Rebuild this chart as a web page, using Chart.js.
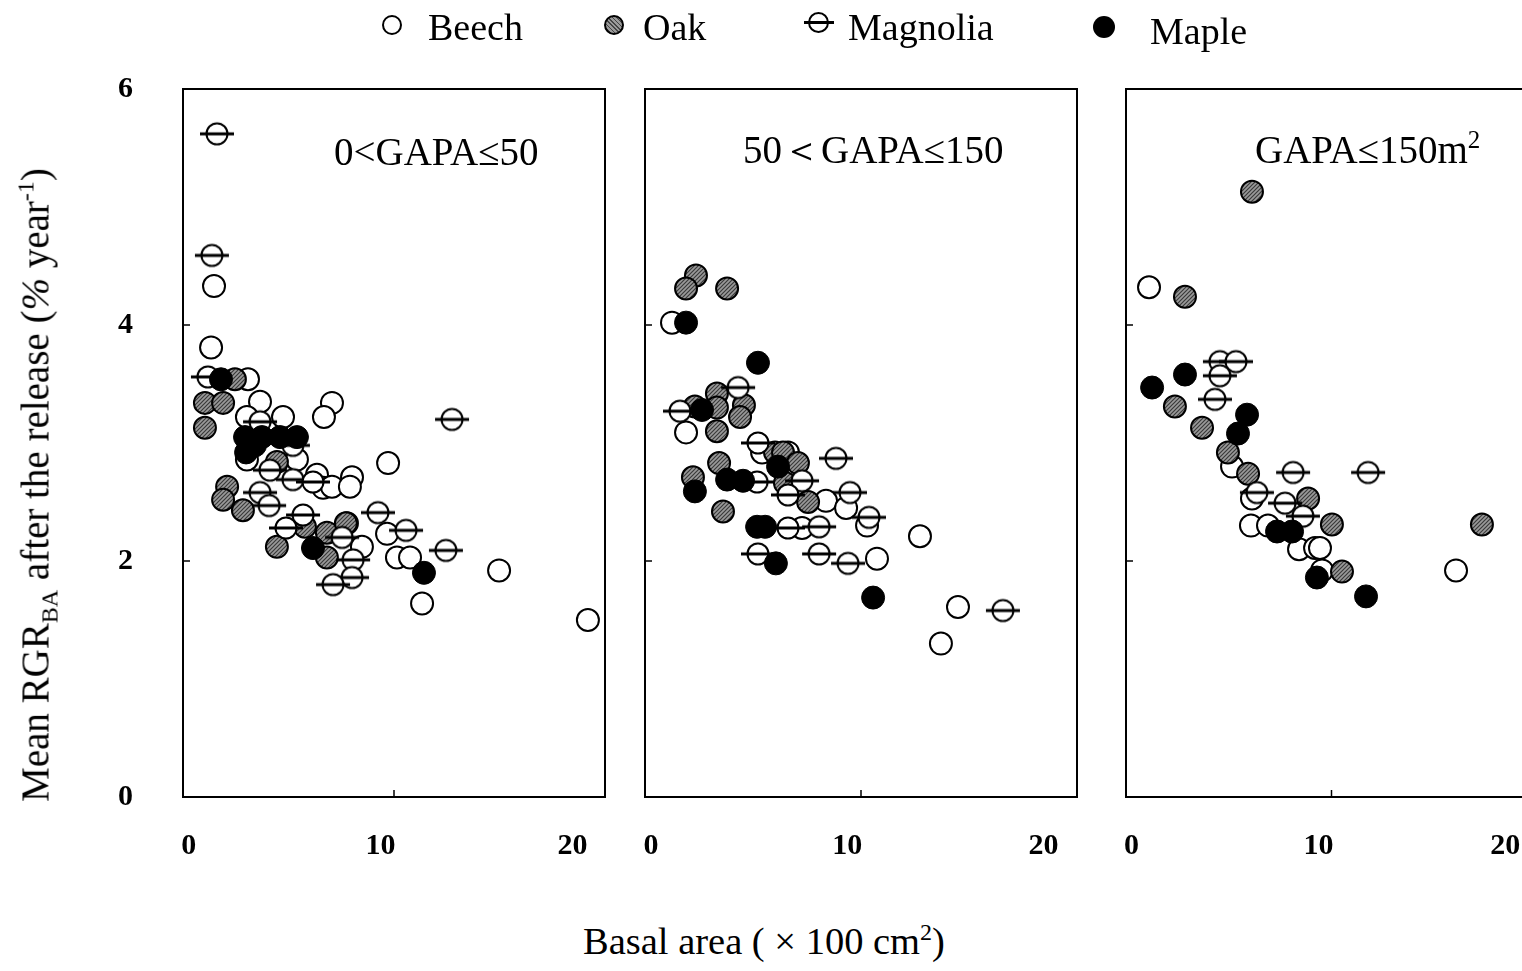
<!DOCTYPE html>
<html><head><meta charset="utf-8">
<script src="https://cdn.jsdelivr.net/npm/chart.js@4.4.1/dist/chart.umd.min.js"></script>
<style>
html,body{margin:0;padding:0;background:#fff;overflow:hidden;width:1522px;height:971px;}
#wrap{position:relative;width:1522px;height:971px;overflow:hidden;font-family:"Liberation Serif","Times New Roman",serif;color:#000;background:#fff;}
canvas{position:absolute;top:0;}
.t{position:absolute;white-space:nowrap;line-height:1;}
.mk{position:absolute;box-sizing:border-box;border-radius:50%;}
sub,sup{line-height:0;}
</style></head><body><div id="wrap">
<canvas id="c1" width="620" height="900" style="left:0px"></canvas>
<canvas id="c2" width="460" height="900" style="left:632px"></canvas>
<canvas id="c3" width="439" height="900" style="left:1113px"></canvas>

<!-- legend -->
<div class="mk" style="left:382px;top:15px;width:20px;height:20px;border:2px solid #000;background:#fff"></div>
<div class="t" style="left:428px;top:8px;font-size:38px">Beech</div>
<div class="mk" style="left:604px;top:15px;width:20px;height:20px;border:2px solid #000;background:repeating-linear-gradient(45deg,#444 0 1px,#9a9a9a 1px 3px)"></div>
<div class="t" style="left:643px;top:8px;font-size:38px">Oak</div>
<div class="mk" style="left:808px;top:12px;width:21px;height:21px;border:2px solid #000;background:#fff"></div>
<div style="position:absolute;left:804px;top:21px;width:30px;height:3px;background:#000"></div>
<div class="t" style="left:848px;top:8px;font-size:38px">Magnolia</div>
<div class="mk" style="left:1093px;top:16px;width:22px;height:22px;background:#000"></div>
<div class="t" style="left:1150px;top:12px;font-size:38px">Maple</div>

<!-- panel titles -->
<div class="t" style="left:334px;top:132px;font-size:39px">0&lt;GAPA≤50</div>
<div class="t" style="left:743px;top:130px;font-size:39px">50＜GAPA≤150</div>
<div class="t" style="left:1255px;top:130px;font-size:39px">GAPA≤150m<sup style="font-size:25px;vertical-align:15px">2</sup></div>

<!-- axis titles -->
<div class="t" style="left:583px;top:922px;font-size:38.5px">Basal area ( × 100 cm<sup style="font-size:24px;vertical-align:14px">2</sup>)</div>
<div class="t" style="left:35px;top:485px;font-size:39px;transform:translate(-50%,-50%) rotate(-90deg)">Mean RGR<sub style="font-size:24px;vertical-align:-9px">BA</sub> after the release (<i>%</i> year<sup style="font-size:24px;vertical-align:15px">-1</sup>)</div>
</div>
<script>
// ---- data: [basal area (x100 cm2), mean RGR_BA (% / year)] ----
const xTickValues = [0, 10, 20];
const xTickLabels = ['0', '10', '20'];
const yTickValues = [0, 2, 4, 6];
const panelTitles = ['0<GAPA≤50', '50＜GAPA≤150', 'GAPA≤150m²'];
const speciesNames = ['Beech', 'Oak', 'Magnolia', 'Maple'];

const p1Beech = [[1.33,3.81],[1.47,4.33],[3.08,3.54],[3.65,3.35],[3.03,3.22],[4.74,3.22],[7.06,3.34],[6.68,3.22],[5.40,2.86],[3.03,2.86],[9.72,2.83],[6.35,2.73],[6.64,2.62],[7.06,2.63],[8.01,2.71],[7.91,2.63],[7.77,2.32],[8.48,2.12],[9.67,2.23],[10.14,2.03],[10.76,2.03],[11.33,1.64],[14.98,1.92],[19.19,1.50]];
const p1Oak = [[1.04,3.34],[1.90,3.34],[1.04,3.13],[2.46,3.54],[4.45,2.84],[2.09,2.63],[1.90,2.52],[2.84,2.43],[5.78,2.29],[4.45,2.12],[6.82,2.24],[6.82,2.03],[7.72,2.32]];
const p1Magnolia = [[1.61,5.62],[1.37,4.59],[1.18,3.56],[12.75,3.20],[3.65,3.18],[5.21,2.98],[4.12,2.77],[5.21,2.69],[6.16,2.67],[3.65,2.58],[4.08,2.47],[5.69,2.39],[4.88,2.28],[9.24,2.41],[10.57,2.26],[7.54,2.20],[12.46,2.09],[8.06,2.01],[8.01,1.86],[7.11,1.80]];
const p1Maple = [[1.80,3.54],[2.94,3.05],[3.74,3.05],[4.60,3.05],[5.40,3.05],[2.99,2.92],[3.41,2.98],[6.16,2.11],[11.42,1.90]];

const p2Beech = [[1.25,4.02],[1.90,3.09],[5.42,2.92],[6.62,2.92],[8.38,2.51],[9.31,2.45],[10.28,2.30],[7.27,2.28],[12.73,2.21],[10.74,2.02],[14.49,1.61],[13.70,1.30]];
const p2Oak = [[2.36,4.42],[1.90,4.31],[3.80,4.31],[3.33,3.42],[3.33,3.30],[4.58,3.32],[4.40,3.22],[2.31,3.31],[3.33,3.10],[6.02,2.92],[6.39,2.92],[7.08,2.83],[3.43,2.83],[2.22,2.71],[3.61,2.42],[7.55,2.50],[6.48,2.66]];
const p2Magnolia = [[4.31,3.47],[1.62,3.27],[5.23,3.00],[8.84,2.87],[5.19,2.67],[7.27,2.68],[6.62,2.56],[9.49,2.58],[10.37,2.37],[6.62,2.28],[8.06,2.29],[5.23,2.06],[8.06,2.06],[9.40,1.98],[16.57,1.58]];
const p2Maple = [[1.90,4.02],[5.23,3.68],[2.64,3.28],[6.16,2.80],[2.31,2.59],[3.80,2.69],[4.54,2.68],[5.19,2.29],[5.56,2.29],[6.06,1.98],[10.56,1.69]];

const p3Beech = [[1.12,4.32],[5.16,2.80],[6.13,2.53],[6.08,2.30],[6.91,2.30],[8.42,2.10],[9.20,2.11],[9.44,2.11],[9.54,1.92],[16.06,1.92]];
const p3Oak = [[6.13,5.13],[2.87,4.24],[2.38,3.31],[3.70,3.13],[4.96,2.92],[5.94,2.74],[8.86,2.53],[10.02,2.31],[10.51,1.91],[17.32,2.31]];
const p3Magnolia = [[4.57,3.69],[5.35,3.69],[4.57,3.57],[4.33,3.37],[8.13,2.75],[11.78,2.75],[6.37,2.58],[7.74,2.49],[8.61,2.38]];
const p3Maple = [[1.27,3.47],[2.87,3.58],[5.89,3.24],[5.45,3.08],[7.35,2.25],[8.08,2.25],[9.29,1.86],[11.68,1.70]];

// ---- marker styles ----
const pc = document.createElement('canvas'); pc.width = 4; pc.height = 4;
const pg = pc.getContext('2d');
pg.fillStyle = '#9a9a9a'; pg.fillRect(0,0,4,4);
pg.strokeStyle = '#3a3a3a'; pg.lineWidth = 1.2;
pg.beginPath(); pg.moveTo(0,4); pg.lineTo(4,0); pg.moveTo(-1,1); pg.lineTo(1,-1); pg.moveTo(3,5); pg.lineTo(5,3); pg.stroke();
const hatch = pg.createPattern(pc, 'repeat');

const mc = document.createElement('canvas'); mc.width = 36; mc.height = 26;
const mg = mc.getContext('2d');
mg.fillStyle = '#fff'; mg.beginPath(); mg.arc(18,13,10.5,0,2*Math.PI); mg.fill();
mg.lineWidth = 2; mg.strokeStyle = '#000'; mg.stroke();
mg.lineWidth = 3; mg.beginPath(); mg.moveTo(1,13); mg.lineTo(35,13); mg.stroke();

const toPts = arr => arr.map(p => ({x: p[0], y: p[1]}));

const boxPlugin = {
  id: 'box',
  afterDraw(chart) {
    const {ctx, chartArea: a, scales} = chart;
    ctx.save();
    ctx.strokeStyle = '#000'; ctx.lineWidth = 2;
    ctx.strokeRect(a.left, a.top, a.right - a.left, a.bottom - a.top);
    ctx.lineWidth = 1.5;
    [2, 4].forEach(v => {
      const y = scales.y.getPixelForValue(v);
      ctx.beginPath(); ctx.moveTo(a.left, y); ctx.lineTo(a.left + 7, y); ctx.stroke();
    });
    const x = scales.x.getPixelForValue(10);
    ctx.beginPath(); ctx.moveTo(x, a.bottom); ctx.lineTo(x, a.bottom - 7); ctx.stroke();
    ctx.restore();
  }
};

const tickFont = {family: 'Liberation Serif', size: 30, weight: 'bold'};

function makePanel(id, beech, oak, magnolia, maple, showY, leftW) {
  new Chart(document.getElementById(id), {
    type: 'scatter',
    data: {
      datasets: [
        {label: speciesNames[3], data: toPts(maple), pointStyle: 'circle', pointRadius: 11.5, backgroundColor: '#000', borderColor: '#000', borderWidth: 1, clip: false},
        {label: speciesNames[2], data: toPts(magnolia), pointStyle: mc, pointRadius: 12, clip: false},
        {label: speciesNames[1], data: toPts(oak), pointStyle: 'circle', pointRadius: 11, backgroundColor: hatch, borderColor: '#000', borderWidth: 2, clip: false},
        {label: speciesNames[0], data: toPts(beech), pointStyle: 'circle', pointRadius: 11, backgroundColor: '#fff', borderColor: '#000', borderWidth: 2, clip: false}
      ]
    },
    options: {
      responsive: false, animation: false,
      layout: {padding: {top: 89, right: 15, left: 0, bottom: 0}},
      plugins: {legend: {display: false}, tooltip: {enabled: false}},
      events: [],
      scales: {
        x: {type: 'linear', position: 'bottom', min: 0, max: 20,
            ticks: {display: false}, grid: {display: false, drawTicks: false}, border: {display: false},
            afterFit(s) { s.height = 0; }},
        xl: {type: 'linear', position: 'bottom', min: -0.3, max: 21.7,
            afterBuildTicks(s) { s.ticks = xTickValues.map(v => ({value: v})); },
            ticks: {padding: 0, color: '#000', maxRotation: 0, autoSkip: false,
                    callback: (v) => xTickLabels[xTickValues.indexOf(v)],
                    font: tickFont},
            grid: {display: true, drawOnChartArea: false, drawTicks: true, tickLength: 31, color: 'rgba(0,0,0,0)'},
            border: {display: false},
            afterFit(s) { s.height = 103; }},
        y: {type: 'linear', min: 0, max: 6,
            afterBuildTicks(s) { s.ticks = yTickValues.map(v => ({value: v})); },
            ticks: {display: showY, padding: 50, color: '#000', font: tickFont},
            grid: {display: false, drawTicks: false}, border: {display: false},
            afterFit(s) { s.width = leftW; }}
      }
    },
    plugins: [boxPlugin]
  });
}

makePanel('c1', p1Beech, p1Oak, p1Magnolia, p1Maple, true, 183);
makePanel('c2', p2Beech, p2Oak, p2Magnolia, p2Maple, false, 10);
makePanel('c3', p3Beech, p3Oak, p3Magnolia, p3Maple, false, 10);
</script>
</body></html>
